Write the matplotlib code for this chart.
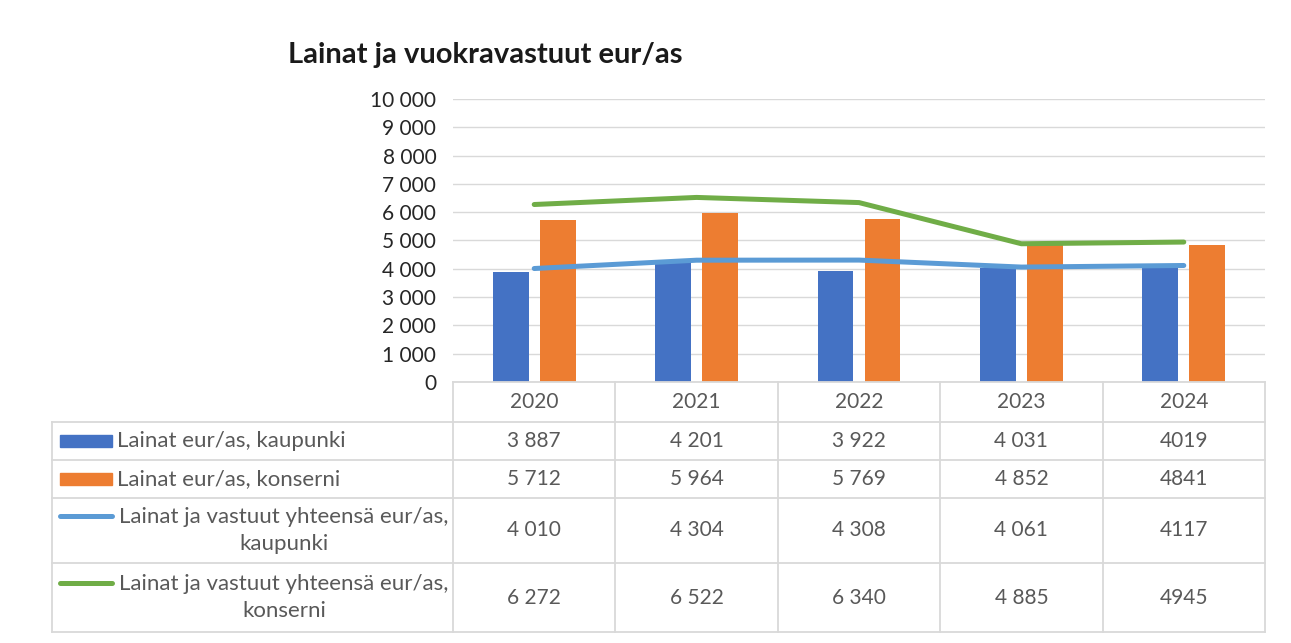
"""
Lainat ja vuokravastuut eur/as - combo chart (bars + lines) with data table.
"""

import matplotlib.pyplot as plt
from matplotlib.patches import Rectangle
from matplotlib.ticker import FuncFormatter

plt.rcParams["font.family"] = ["Lato", "DejaVu Sans"]

# ---------------------------------------------------------------------
# data
# ---------------------------------------------------------------------
YEARS = ["2020", "2021", "2022", "2023", "2024"]
LAINAT_KAUPUNKI = [3887, 4201, 3922, 4031, 4019]
LAINAT_KONSERNI = [5712, 5964, 5769, 4852, 4841]
VASTUUT_KAUPUNKI = [4010, 4304, 4308, 4061, 4117]
VASTUUT_KONSERNI = [6272, 6522, 6340, 4885, 4945]

SERIES_LABELS = [
    "Lainat eur/as, kaupunki",
    "Lainat eur/as, konserni",
    "Lainat ja vastuut yhteensä eur/as,\nkaupunki",
    "Lainat ja vastuut yhteensä eur/as,\nkonserni",
]
TABLE_TEXT = [
    ["3 887", "4 201", "3 922", "4 031", "4019"],
    ["5 712", "5 964", "5 769", "4 852", "4841"],
    ["4 010", "4 304", "4 308", "4 061", "4117"],
    ["6 272", "6 522", "6 340", "4 885", "4945"],
]
TITLE = "Lainat ja vuokravastuut eur/as"

C_BLUE = "#4472C4"
C_ORANGE = "#ED7D31"
C_LBLUE = "#5B9BD5"
C_GREEN = "#70AD47"
GRID = "#d9d9d9"
TXT = "#595959"

# ---------------------------------------------------------------------
# layout in pixels
# ---------------------------------------------------------------------
W, H = 1291, 643
PLOT_L, PLOT_R = 453, 1265
PLOT_T, PLOT_B = 99, 382
TABLE_L = 52
ROW_EDGES = [382, 422, 460, 498, 563, 632]

fig = plt.figure(figsize=(W / 100, H / 100), dpi=100)
fig.patch.set_facecolor("white")

ax = fig.add_axes([PLOT_L / W, 1 - PLOT_B / H, (PLOT_R - PLOT_L) / W,
                   (PLOT_B - PLOT_T) / H])
x = list(range(len(YEARS)))
bw = 0.22
ax.bar([i - 0.145 for i in x], LAINAT_KAUPUNKI, width=bw, color=C_BLUE, zorder=2)
ax.bar([i + 0.145 for i in x], LAINAT_KONSERNI, width=bw, color=C_ORANGE, zorder=2)
ax.plot(x, VASTUUT_KAUPUNKI, color=C_LBLUE, lw=3.6, solid_capstyle="round", zorder=3)
ax.plot(x, VASTUUT_KONSERNI, color=C_GREEN, lw=3.6, solid_capstyle="round", zorder=3)

ax.set_xlim(-0.5, len(YEARS) - 0.5)
ax.set_ylim(0, 10000)
ax.set_yticks(range(0, 10001, 1000))
ax.yaxis.set_major_formatter(FuncFormatter(lambda v, p: f"{int(v):,}".replace(",", " ")))
ax.tick_params(axis="y", length=0, labelsize=15, labelcolor="#262626", pad=12)
ax.set_xticks([])
ax.grid(axis="y", color=GRID, lw=1, zorder=0)
for s in ax.spines.values():
    s.set_visible(False)

fig.text(288 / W, 1 - 55 / H, TITLE, fontsize=21, fontweight="bold",
         color="#1a1a1a", ha="left", va="center")

# ---------------------------------------------------------------------
# data table, sharing the category scale of the chart
# ---------------------------------------------------------------------
unit = (PLOT_R - PLOT_L) / len(YEARS)
x_left = -0.5 - (PLOT_L - TABLE_L) / unit
tax = fig.add_axes([TABLE_L / W, 1 - ROW_EDGES[-1] / H, (PLOT_R - TABLE_L) / W,
                    (ROW_EDGES[-1] - ROW_EDGES[0]) / H])
tax.set_xlim(x_left, len(YEARS) - 0.5)
tax.set_ylim(ROW_EDGES[-1], ROW_EDGES[0])
tax.axis("off")

lkw = dict(color=GRID, lw=1.3, clip_on=False)
tax.plot([-0.5, len(YEARS) - 0.5], [ROW_EDGES[0]] * 2, **lkw)
for y in ROW_EDGES[1:]:
    tax.plot([x_left, len(YEARS) - 0.5], [y, y], **lkw)
for i in range(len(YEARS) + 1):
    tax.plot([i - 0.5] * 2, [ROW_EDGES[0], ROW_EDGES[-1]], **lkw)
tax.plot([x_left] * 2, [ROW_EDGES[1], ROW_EDGES[-1]], **lkw)

hdr_y = (ROW_EDGES[0] + ROW_EDGES[1]) / 2
for i, yr in enumerate(YEARS):
    tax.text(i, hdr_y, yr, ha="center", va="center", fontsize=15, color=TXT)

key_x0 = x_left + 8 / unit
key_x1 = x_left + 60 / unit
text_x = x_left + 65 / unit
center_x = x_left + 232 / unit
for r, (label, vals) in enumerate(zip(SERIES_LABELS, TABLE_TEXT)):
    y0, y1 = ROW_EDGES[r + 1], ROW_EDGES[r + 2]
    ym = (y0 + y1) / 2
    for i, v in enumerate(vals):
        tax.text(i, ym, v, ha="center", va="center", fontsize=15, color=TXT)
    if r < 2:
        col = C_BLUE if r == 0 else C_ORANGE
        tax.add_patch(Rectangle((key_x0, ym - 6), key_x1 - key_x0, 12, color=col))
        tax.text(text_x, ym, label, ha="left", va="center", fontsize=16, color=TXT)
    else:
        col = C_LBLUE if r == 2 else C_GREEN
        ky = ym - 15
        tax.plot([key_x0, key_x1], [ky, ky], color=col, lw=3.6, solid_capstyle="round")
        tax.text(center_x, ym, label, ha="center", va="center", fontsize=16,
                 color=TXT, multialignment="center", linespacing=1.45)

fig.savefig("out.png", dpi=100)
